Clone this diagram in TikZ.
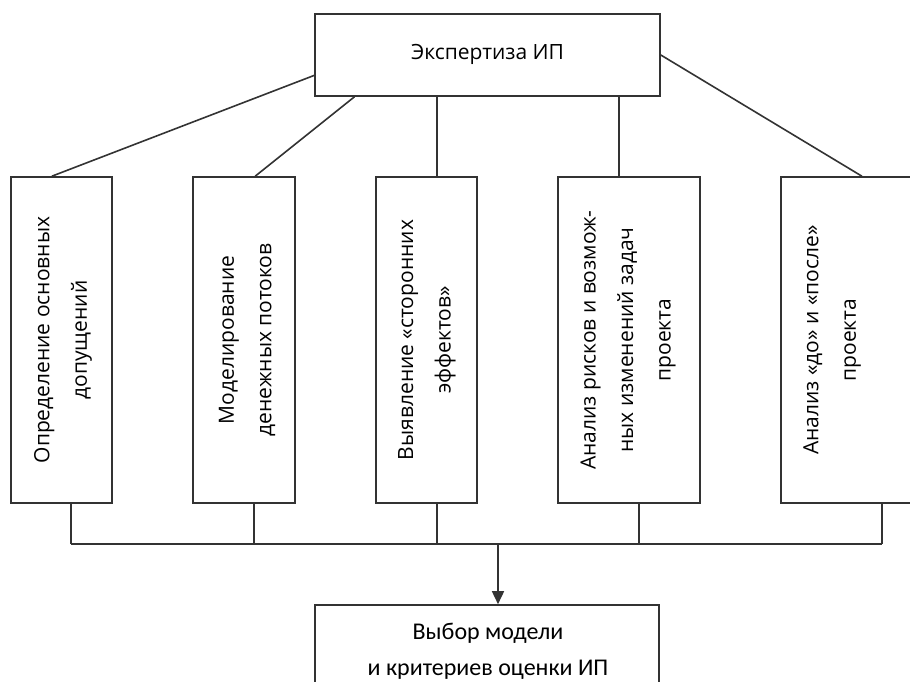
\documentclass[tikz,border=0pt]{standalone}
\usepackage{fontspec}
\setmainfont{Open Sans}
\newfontfamily\calfont{Carlito}
\usetikzlibrary{arrows.meta,calc}
\definecolor{lc}{HTML}{333333}
\begin{document}
\begin{tikzpicture}[x=1pt,y=-1pt,
  box/.style={draw=lc, line width=1.6pt, inner sep=0pt},
  conn/.style={draw=lc, line width=1.6pt},
  txt/.style={font=\fontsize{21}{37.5}\selectfont, align=center, inner sep=0pt, text=black},
  vtxt/.style={txt, rotate=90}]
\useasboundingbox (0,0) rectangle (910,682);
\clip (0,0) rectangle (910,682);

% boxes
\node[box, minimum width=345pt, minimum height=82pt] (top) at (487.5,55) {};
\node[box, minimum width=101pt, minimum height=326pt] (b1) at (61.5,340) {};
\node[box, minimum width=102pt, minimum height=326pt] (b2) at (244,340) {};
\node[box, minimum width=101pt, minimum height=326pt] (b3) at (426.5,340) {};
\node[box, minimum width=142pt, minimum height=326pt] (b4) at (629,340) {};
\node[box, minimum width=182pt, minimum height=326pt] (b5) at (872,340) {};
\node[box, minimum width=344pt, minimum height=110pt] (bot) at (487,660) {};

% labels
\node[txt] (ltop) at (487.5,54) {Экспертиза ИП};
\node[vtxt] (l1) at (63,340) {Определение основных\\допущений};
\node[vtxt] (l2) at (247,340) {Моделирование\\денежных потоков};
\node[vtxt] (l3) at (427,340) {Выявление «сторонних\\эффектов»};
\node[vtxt] (l4) at (628,340) {Анализ рисков и возмож-\\ных изменений задач\\проекта};
\node[vtxt] (l5) at (832,340) {Анализ «до» и «после»\\проекта};
\node[txt, font=\calfont\fontsize{24}{36}\selectfont] (lbot) at (488,651) {Выбор модели\\и критериев оценки ИП};

% top connectors
\draw[conn] ($(b1.north west)!0.406!(b1.north east)$) -- ($(top.north west)!0.744!(top.south west)$);
\draw[conn] ($(b2.north west)!0.608!(b2.north east)$) -- ($(top.south west)!0.116!(top.south east)$);
\coordinate (u3) at ($(b3.north)+(10.5,0)$);
\draw[conn] (u3) -- (u3 |- top.south);
\coordinate (u4) at ($(b4.north)+(-10,0)$);
\draw[conn] (u4) -- (u4 |- top.south);
\draw[conn] ($(b5.north west)!0.445!(b5.north east)$) -- (top.east);

% bottom bus
\coordinate (j1) at (71,544);
\coordinate (j2) at (254,544);
\coordinate (j3) at (437,544);
\coordinate (j4) at (639,544);
\coordinate (j5) at (882,544);
\coordinate (jc) at (498,544);
\draw[conn] (b1.south -| j1) -- (j1);
\draw[conn] (b2.south -| j2) -- (j2);
\draw[conn] (b3.south -| j3) -- (j3);
\draw[conn] (b4.south -| j4) -- (j4);
\draw[conn] (b5.south -| j5) -- (j5);
\draw[conn] (j1) -- (j5);
\draw[conn, -{Triangle[length=13pt,width=12pt]}] (jc) -- (jc |- bot.north);
\end{tikzpicture}
\end{document}
